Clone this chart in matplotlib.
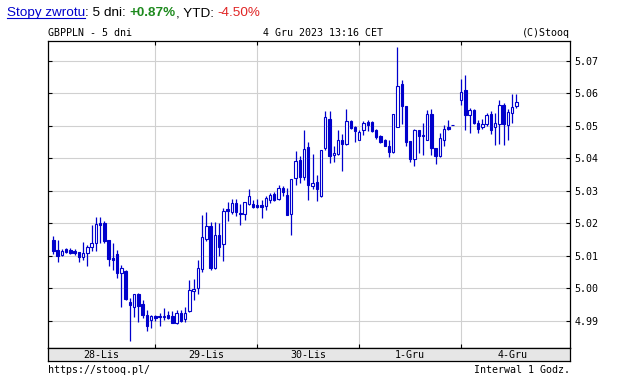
import numpy as np
import matplotlib
matplotlib.use("Agg")
import matplotlib.pyplot as plt
from matplotlib.lines import Line2D

# GBPPLN, swiece 1h, 5 dni (28-Lis .. 4-Gru 2023)
opens = [5.0149, 5.0118, 5.0102, 5.0121, 5.0118, 5.0116, 5.0112, 5.0098, 5.0108, 5.0129,
         5.0141, 5.0203, 5.0200, 5.0149, 5.0094, 5.0106, 5.0047, 5.0055, 4.9958, 4.9944,
         4.9984, 4.9951, 4.9918, 4.9903, 4.9915, 4.9915, 4.9913, 4.9918, 4.9915, 4.9893,
         4.9924, 4.9905, 4.9931, 4.9993, 5.0003, 5.0059, 5.0151, 5.0192, 5.0062, 5.0164,
         5.0136, 5.0244, 5.0236, 5.0263, 5.0233, 5.0228, 5.0261, 5.0260, 5.0258, 5.0257,
         5.0253, 5.0273, 5.0292, 5.0275, 5.0310, 5.0289, 5.0230, 5.0340, 5.0396, 5.0342,
         5.0434, 5.0314, 5.0328, 5.0284, 5.0432, 5.0522, 5.0410, 5.0415, 5.0458, 5.0446,
         5.0516, 5.0497, 5.0458, 5.0487, 5.0511, 5.0511, 5.0487, 5.0468, 5.0456, 5.0439,
         5.0419, 5.0497, 5.0630, 5.0563, 5.0453, 5.0398, 5.0489, 5.0473, 5.0458, 5.0538,
         5.0432, 5.0407, 5.0458, 5.0497, 5.0502, np.nan, 5.0579, 5.0612, 5.0533, 5.0548,
         5.0510, 5.0497, 5.0505, 5.0538, 5.0497, 5.0505, 5.0566, 5.0503, 5.0541, 5.0561]
highs = [5.0162, 5.0149, 5.0122, 5.0126, 5.0126, 5.0120, 5.0113, 5.0143, 5.0134, 5.0195,
         5.0219, 5.0219, 5.0209, 5.0150, 5.0141, 5.0118, 5.0072, 5.0056, 4.9970, 4.9982,
         4.9987, 4.9965, 4.9934, 4.9918, 4.9919, 4.9924, 4.9939, 4.9932, 4.9932, 4.9934,
         4.9934, 4.9942, 5.0026, 5.0029, 5.0088, 5.0226, 5.0234, 5.0206, 5.0206, 5.0201,
         5.0247, 5.0265, 5.0275, 5.0275, 5.0260, 5.0266, 5.0307, 5.0273, 5.0275, 5.0273,
         5.0284, 5.0294, 5.0296, 5.0317, 5.0314, 5.0308, 5.0337, 5.0422, 5.0409, 5.0489,
         5.0450, 5.0415, 5.0350, 5.0427, 5.0547, 5.0545, 5.0439, 5.0487, 5.0476, 5.0553,
         5.0519, 5.0501, 5.0489, 5.0514, 5.0519, 5.0514, 5.0491, 5.0473, 5.0460, 5.0458,
         5.0538, 5.0743, 5.0643, 5.0563, 5.0453, 5.0491, 5.0489, 5.0509, 5.0548, 5.0552,
         5.0432, 5.0478, 5.0504, 5.0519, 5.0502, np.nan, 5.0645, 5.0658, 5.0556, 5.0551,
         5.0518, 5.0522, 5.0541, 5.0546, 5.0541, 5.0579, 5.0571, 5.0551, 5.0597, 5.0597]
lows = [5.0106, 5.0083, 5.0100, 5.0108, 5.0106, 5.0104, 5.0083, 5.0088, 5.0070, 5.0116,
        5.0116, 5.0139, 5.0139, 5.0069, 5.0057, 5.0033, 4.9942, 4.9965, 4.9839, 4.9911,
        4.9896, 4.9910, 4.9870, 4.9879, 4.9901, 4.9886, 4.9903, 4.9905, 4.9893, 4.9891,
        4.9896, 4.9898, 4.9929, 4.9965, 4.9982, 5.0052, 5.0147, 5.0057, 5.0059, 5.0100,
        5.0085, 5.0209, 5.0230, 5.0222, 5.0194, 5.0211, 5.0258, 5.0247, 5.0247, 5.0216,
        5.0241, 5.0263, 5.0268, 5.0271, 5.0284, 5.0225, 5.0166, 5.0318, 5.0325, 5.0335,
        5.0273, 5.0306, 5.0268, 5.0282, 5.0427, 5.0386, 5.0388, 5.0412, 5.0361, 5.0443,
        5.0491, 5.0450, 5.0458, 5.0473, 5.0484, 5.0481, 5.0460, 5.0448, 5.0437, 5.0405,
        5.0417, 5.0497, 5.0507, 5.0437, 5.0388, 5.0376, 5.0417, 5.0412, 5.0456, 5.0412,
        5.0384, 5.0405, 5.0439, 5.0487, 5.0502, np.nan, 5.0566, 5.0487, 5.0479, 5.0505,
        5.0477, 5.0492, 5.0499, 5.0474, 5.0443, 5.0446, 5.0443, 5.0458, 5.0510, 5.0554]
closes = [5.0116, 5.0100, 5.0116, 5.0111, 5.0110, 5.0109, 5.0096, 5.0108, 5.0129, 5.0141,
          5.0198, 5.0196, 5.0147, 5.0090, 5.0087, 5.0047, 5.0064, 4.9967, 4.9948, 4.9982,
          4.9946, 4.9918, 4.9886, 4.9914, 4.9909, 4.9911, 4.9914, 4.9910, 4.9895, 4.9924,
          4.9900, 4.9924, 4.9995, 4.9998, 5.0062, 5.0157, 5.0192, 5.0062, 5.0165, 5.0129,
          5.0237, 5.0237, 5.0263, 5.0235, 5.0228, 5.0265, 5.0284, 5.0250, 5.0251, 5.0250,
          5.0278, 5.0289, 5.0273, 5.0308, 5.0296, 5.0227, 5.0337, 5.0393, 5.0343, 5.0430,
          5.0318, 5.0325, 5.0307, 5.0427, 5.0528, 5.0409, 5.0417, 5.0458, 5.0446, 5.0516,
          5.0494, 5.0484, 5.0482, 5.0509, 5.0504, 5.0484, 5.0466, 5.0451, 5.0439, 5.0419,
          5.0538, 5.0624, 5.0561, 5.0450, 5.0398, 5.0487, 5.0468, 5.0468, 5.0538, 5.0432,
          5.0407, 5.0463, 5.0491, 5.0492, 5.0502, np.nan, 5.0605, 5.0535, 5.0548, 5.0508,
          5.0492, 5.0507, 5.0535, 5.0487, 5.0510, 5.0566, 5.0505, 5.0543, 5.0559, 5.0574]

day_labels = ["28-Lis", "29-Lis", "30-Lis", "1-Gru", "4-Gru"]
day_starts = [24, 48, 72, 96]          # indeks pierwszej swiecy kolejnego dnia
y_ticks = [4.99, 5.00, 5.01, 5.02, 5.03, 5.04, 5.05, 5.06, 5.07]

W, H = 642, 376
blue = "#0000cc"
mono = "DejaVu Sans Mono"

fig = plt.figure(figsize=(W / 100, H / 100), dpi=100)
fig.patch.set_facecolor("white")

# glowny wykres
ax = fig.add_axes([48 / W, (H - 348) / H, (570 - 48) / W, (348 - 41) / H])
xlim = (-1.25, 121.6)
ax.set_xlim(*xlim)
ax.set_ylim(4.98169, 5.07615)

o = np.array(opens)
hh = np.array(highs)
ll = np.array(lows)
c = np.array(closes)
idx = np.arange(len(o))
ok = ~np.isnan(o)
idx, o, hh, ll, c = idx[ok], o[ok], hh[ok], ll[ok], c[ok]

ax.vlines(idx, ll, hh, color=blue, linewidth=0.9, zorder=3)
down = c < o
ax.bar(idx, np.abs(c - o), bottom=np.minimum(o, c), width=0.58,
       facecolor=np.where(down, blue, "white"), edgecolor=blue,
       linewidth=0.8, zorder=4)

ax.set_yticks(y_ticks)
ax.set_yticklabels([f"{v:.2f}" for v in y_ticks], fontfamily=mono, fontsize=7.2)
ax.set_xticks(day_starts)
ax.set_xticklabels([])
ax.tick_params(axis="y", direction="in", length=3, width=0.8, left=True, right=True,
               labelleft=False, labelright=True, pad=3)
ax.tick_params(axis="x", direction="in", length=3, width=0.8, top=True, bottom=True)
ax.grid(True, color="#d0d0d0", linewidth=0.8, zorder=0)
ax.set_axisbelow(True)
for s in ax.spines.values():
    s.set_linewidth(0.9)

# pasek z datami
bx = fig.add_axes([48 / W, (H - 361) / H, (570 - 48) / W, 13 / H])
bx.set_facecolor("#e6e6e6")
bx.set_xlim(*xlim)
bx.set_ylim(0, 1)
bx.set_xticks([])
bx.set_yticks([])
for s in bx.spines.values():
    s.set_linewidth(0.9)
bounds = [xlim[0]] + day_starts + [day_starts[-1] + 24]
for i, lab in enumerate(day_labels):
    bx.text((bounds[i] + bounds[i + 1]) / 2, 0.45, lab, ha="center", va="center",
            fontfamily=mono, fontsize=7.2)

# napisy nad wykresem
fig.text(48 / W, 1 - 36 / H, "GBPPLN - 5 dni", fontfamily=mono, fontsize=7.2, va="baseline")
fig.text(263 / W, 1 - 36 / H, "4 Gru 2023 13:16 CET", fontfamily=mono, fontsize=7.2, va="baseline")
fig.text(570 / W, 1 - 36 / H, "(C)Stooq", fontfamily=mono, fontsize=7.2, va="baseline", ha="right")
fig.text(48 / W, 1 - 373 / H, "https://stooq.pl/", fontfamily=mono, fontsize=7.2, va="baseline")
fig.text(570 / W, 1 - 373 / H, "Interwal 1 Godz.", fontfamily=mono, fontsize=7.2, va="baseline", ha="right")

# linia "Stopy zwrotu" - skladana z kawalkow
parts = [("Stopy zwrotu", blue, "normal"), (": 5 dni: ", "black", "normal"),
         ("+0.87%", "#1e8a1e", "bold"), (", YTD: ", "black", "normal"),
         ("-4.50%", "#e02424", "normal")]
renderer = fig.canvas.get_renderer()
x = 7
for txt, col, wt in parts:
    t = fig.text(x / W, 1 - 16 / H, txt, color=col, fontweight=wt, fontsize=9.7,
                 fontfamily="Liberation Sans", va="baseline")
    bb = t.get_window_extent(renderer)
    if txt == "Stopy zwrotu":
        fig.add_artist(Line2D([x / W, (x + bb.width) / W], [1 - 17.5 / H, 1 - 17.5 / H],
                              color=blue, linewidth=0.8))
    x += bb.width

fig.savefig("out.png", dpi=100)
